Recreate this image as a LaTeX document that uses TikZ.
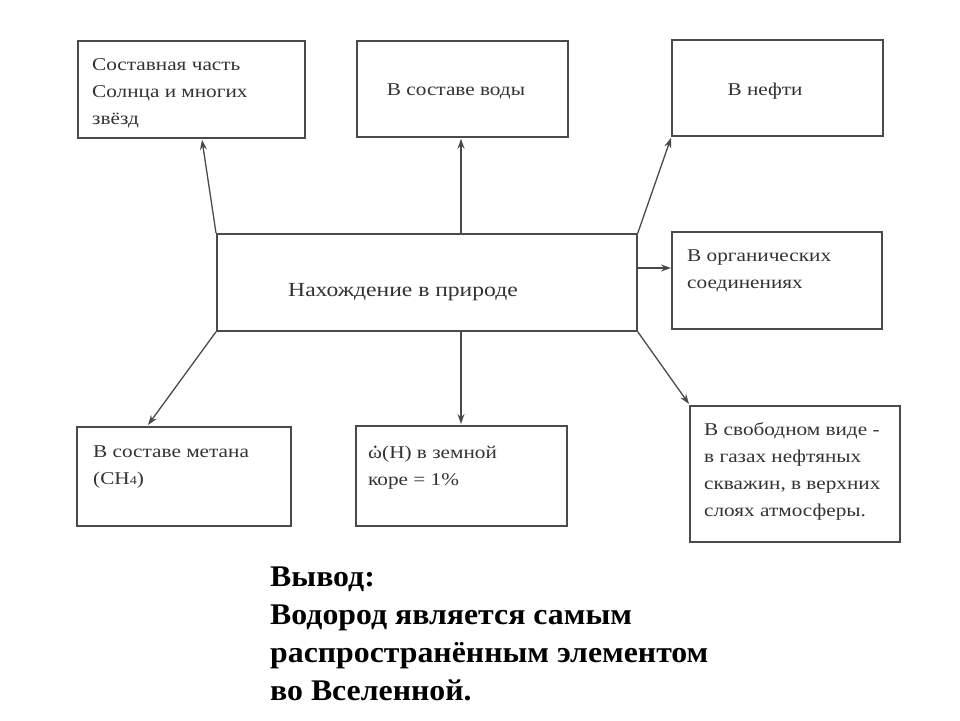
\documentclass[tikz,border=0pt]{standalone}
\usepackage{fontspec}
\setmainfont{Liberation Serif}
\newfontfamily\boxfont[FakeStretch=1.18]{Liberation Serif}
\newfontfamily\conclfont[FakeStretch=1.06]{Liberation Serif}
\usetikzlibrary{arrows.meta,calc}
\definecolor{boxline}{HTML}{4A4A4A}
\definecolor{boxtext}{HTML}{333333}
\begin{document}
\begin{tikzpicture}[x=1pt,y=-1pt,
  box/.style={draw=boxline,line width=1.8pt,fill=white,inner sep=0pt,anchor=north west},
  txt/.style={inner sep=0pt,text=boxtext,font=\boxfont\fontsize{18}{27}\selectfont,align=left},
  arr/.style={draw=boxline,line width=1.3pt,-{Stealth[length=10pt,width=7pt]}}]
\useasboundingbox (0,0) rectangle (960,720);
% boxes
\node[box,minimum width=227pt,minimum height=97pt] (b1) at (77,40) {};
\node[box,minimum width=211pt,minimum height=96pt] (b2) at (356,40) {};
\node[box,minimum width=211pt,minimum height=96pt] (b3) at (671,39) {};
\node[box,minimum width=420pt,minimum height=97pt] (c) at (216,233) {};
\node[box,minimum width=210pt,minimum height=97pt] (b4) at (671,231) {};
\node[box,minimum width=214pt,minimum height=99pt] (b5) at (76,426) {};
\node[box,minimum width=211pt,minimum height=100pt] (b6) at (355,425) {};
\node[box,minimum width=210pt,minimum height=136pt] (b7) at (689,405) {};
% texts (anchor at baseline of last line)
\node[txt,anchor=base west] (t1) at (92,124) {Составная часть\\Солнца и многих\\звёзд};
\node[txt,anchor=base] (t2) at (456,95) {В составе воды};
\node[txt,anchor=base] (t3) at (765,95) {В нефти};
\node[txt,anchor=base,font=\boxfont\fontsize{20}{27}\selectfont] (tc) at (403,296) {Нахождение в природе};
\node[txt,anchor=base west] (t4) at (687,288) {В органических\\соединениях};
\node[txt,anchor=base west] (t5) at (93,484) {В составе метана\\(CH\raisebox{-0.1ex}{\fontsize{12}{12}\selectfont 4})};
\node[txt,anchor=base west] (t6) at (368,485) {ω(H) в земной\\коре = 1\%};
\fill[boxtext] ($(t6.north west)+(7.3,1.5)$) circle (1.4pt);
\node[txt,anchor=base west] (t7) at (704,516) {В свободном виде -\\в газах нефтяных\\скважин, в верхних\\слоях атмосферы.};
% connectors
\draw[arr] (c.north west) -- ($(b1.south west)+(125,1)$);
\draw[arr] ($(c.north west)+(245,0)$) -- ($(b2.south west)+(105,1)$);
\draw[arr] (c.north east) -- ($(b3.south west)+(0,1)$);
\draw[arr] ($(c.north east)+(0,35)$) -- ($(b4.north west)+(0,37)$);
\draw[arr] (c.south west) -- ($(b5.north west)+(72,-1)$);
\draw[arr] ($(c.south west)+(245,0)$) -- ($(b6.north west)+(106,-1)$);
\draw[arr] (c.south east) -- ($(b7.north west)+(0,-1)$);
% conclusion
\node[inner sep=0pt,anchor=base west,align=left,font=\conclfont\fontsize{30}{38}\selectfont\bfseries] (concl) at (270,700)
  {Вывод:\\Водород является самым\\распространённым элементом\\во Вселенной.};
\end{tikzpicture}
\end{document}
